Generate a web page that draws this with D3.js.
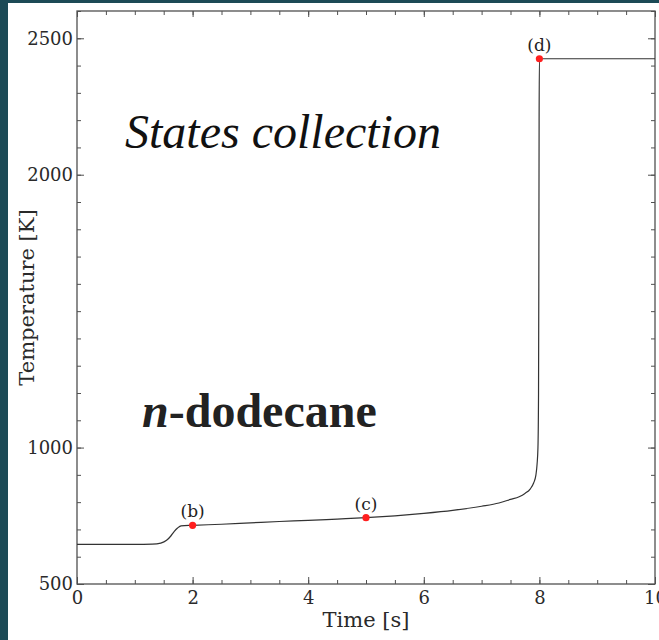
<!DOCTYPE html>
<html>
<head>
<meta charset="utf-8">
<script src="https://cdn.jsdelivr.net/npm/d3@7"></script>
<style>
  html, body { margin: 0; padding: 0; background: #1c4a56; }
  svg { display: block; }
</style>
</head>
<body>
<div id="visual"></div>
<script>
// temperature history of the n-dodecane state collection run
const time = [0, 0.5, 1.0, 1.3, 1.45, 1.55, 1.62, 1.68, 1.74, 1.8, 2.0, 2.5, 3.0, 3.5, 4.0, 4.5, 5.0, 5.5, 6.0, 6.5, 7.0, 7.3, 7.5, 7.65, 7.75, 7.84, 7.9, 7.94, 7.96, 7.975, 7.985, 7.99, 7.995, 8.0, 8.5, 9.0, 9.5, 10.0];
const temperature = [645, 645, 645, 646, 650, 660, 675, 692, 705, 713, 715, 719, 724, 729, 733, 738, 743, 750, 759, 770, 785, 797, 810, 820, 832, 848, 870, 900, 940, 1000, 1200, 1600, 2200, 2425, 2425, 2425, 2425, 2425];

// marked states
const stateLabels = ["(b)", "(c)", "(d)"];
const stateTime = [2, 5, 8];
const stateTemp = [715, 743, 2425];

const xMajor = [0, 2, 4, 6, 8, 10];
const yMajor = [500, 1000, 2000, 2500];

const W = 659, H = 640;
const margin = {top: 11, right: 4, bottom: 56, left: 77};
const width = W - margin.left - margin.right,
      height = H - margin.top - margin.bottom;

const svgRoot = d3.select("#visual").append("svg")
    .attr("width", W)
    .attr("height", H);

// white panel over the teal slide background
svgRoot.append("rect")
    .attr("x", 8).attr("y", 3)
    .attr("width", W - 8).attr("height", H - 3)
    .style("fill", "#ffffff");

const svg = svgRoot.append("g")
    .attr("transform", "translate(" + margin.left + "," + margin.top + ")");

const x = d3.scaleLinear().domain([0, 10]).range([0, width]);
const y = d3.scaleLinear().domain([500, 2600]).range([height, 0]);

const FONT = "DejaVu Serif, serif";
const AXIS = "#505050";

function styleAxis(g) {
    g.select(".domain").remove();
    g.selectAll("line").style("stroke", AXIS).style("stroke-width", 1);
    g.selectAll("text")
        .style("font-family", FONT)
        .style("font-size", "18px")
        .style("fill", "#2a2a2a");
}

// minor ticks on all sides
svg.append("g").attr("transform", "translate(0," + height + ")")
    .call(d3.axisBottom(x).tickValues(d3.range(0, 10.01, 0.5)).tickSize(-4).tickFormat(""))
    .call(styleAxis);
svg.append("g")
    .call(d3.axisTop(x).tickValues(d3.range(0, 10.01, 0.5)).tickSize(-4).tickFormat(""))
    .call(styleAxis);
svg.append("g")
    .call(d3.axisLeft(y).tickValues(d3.range(500, 2601, 100)).tickSize(-4).tickFormat(""))
    .call(styleAxis);
svg.append("g").attr("transform", "translate(" + width + ",0)")
    .call(d3.axisRight(y).tickValues(d3.range(500, 2601, 100)).tickSize(-4).tickFormat(""))
    .call(styleAxis);

// major ticks and labels
svg.append("g").attr("transform", "translate(0," + height + ")")
    .call(d3.axisBottom(x).tickValues(xMajor).tickSize(-7).tickPadding(7).tickFormat(d3.format("d")))
    .call(styleAxis);
svg.append("g")
    .call(d3.axisTop(x).tickValues(xMajor).tickSize(-6).tickFormat(""))
    .call(styleAxis);
svg.append("g")
    .call(d3.axisLeft(y).tickValues(yMajor).tickSize(-7).tickPadding(4).tickFormat(d3.format("d")))
    .call(styleAxis);
svg.append("g").attr("transform", "translate(" + width + ",0)")
    .call(d3.axisRight(y).tickValues(yMajor).tickSize(-7).tickFormat(""))
    .call(styleAxis);

// frame
svg.append("rect")
    .attr("width", width).attr("height", height)
    .style("fill", "none")
    .style("stroke", AXIS)
    .style("stroke-width", 1.3);

// temperature curve
const series = time.map((t, i) => ({t: t, T: temperature[i]}));
const line = d3.line()
    .x(d => x(d.t))
    .y(d => y(d.T))
    .curve(d3.curveMonotoneX);

svg.append("path")
    .datum(series)
    .attr("d", line)
    .style("fill", "none")
    .style("stroke", "#333")
    .style("stroke-width", 1.2);

// state markers
const states = stateLabels.map((s, i) => ({label: s, t: stateTime[i], T: stateTemp[i]}));

svg.selectAll(".state")
    .data(states)
    .enter().append("circle")
    .attr("class", "state")
    .attr("cx", d => x(d.t))
    .attr("cy", d => y(d.T))
    .attr("r", 3.6)
    .style("fill", "#ff1f1f");

svg.selectAll(".stateLabel")
    .data(states)
    .enter().append("text")
    .attr("class", "stateLabel")
    .attr("x", d => x(d.t))
    .attr("y", d => y(d.T) - 8)
    .attr("text-anchor", "middle")
    .style("font-family", FONT)
    .style("font-size", "17px")
    .style("fill", "#222")
    .text(d => d.label);

// axis titles
svg.append("text")
    .attr("x", width / 2)
    .attr("y", height + 43)
    .attr("text-anchor", "middle")
    .style("font-family", FONT)
    .style("font-size", "21px")
    .style("fill", "#2a2a2a")
    .text("Time [s]");

svg.append("text")
    .attr("transform", "translate(-43," + (height / 2) + ") rotate(-90)")
    .attr("text-anchor", "middle")
    .style("font-family", FONT)
    .style("font-size", "21px")
    .style("fill", "#2a2a2a")
    .text("Temperature [K]");

// annotations
svg.append("text")
    .attr("x", 48)
    .attr("y", 137)
    .style("font-family", "Liberation Serif, Times New Roman, serif")
    .style("font-style", "italic")
    .style("font-size", "48px")
    .style("fill", "#111")
    .text("States collection");

const fuel = svg.append("text")
    .attr("x", 65)
    .attr("y", 416)
    .style("font-family", "Liberation Serif, Times New Roman, serif")
    .style("font-weight", "bold")
    .style("font-size", "48px")
    .style("fill", "#222");
fuel.append("tspan").style("font-style", "italic").text("n");
fuel.append("tspan").text("-dodecane");
</script>
</body>
</html>
